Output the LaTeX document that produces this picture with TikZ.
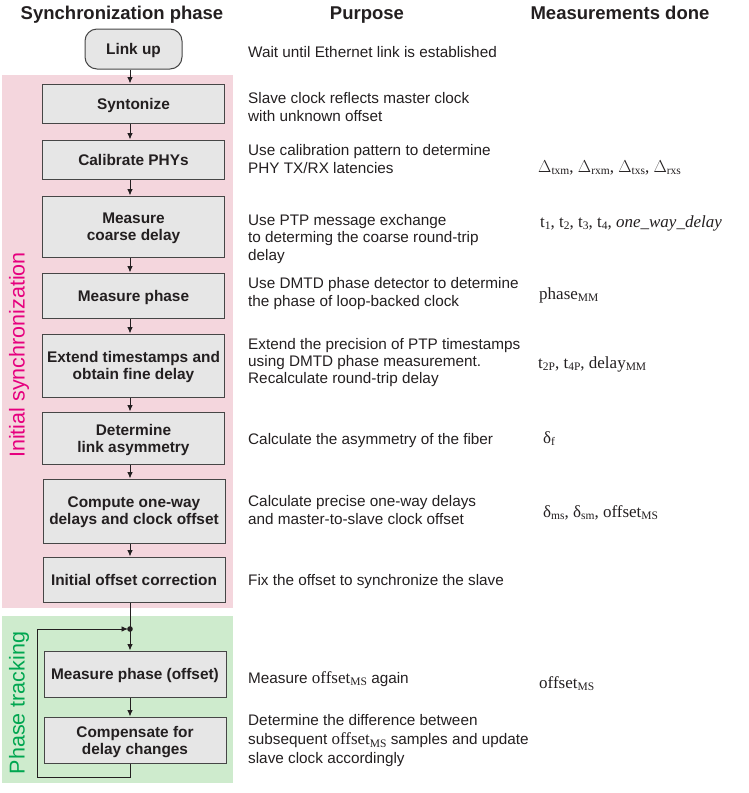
\documentclass[tikz,border=0pt]{standalone}
\usepackage{fontspec}
\setmainfont{Liberation Sans}
\newfontfamily\tms{Liberation Serif}
\usetikzlibrary{arrows.meta}
\definecolor{pinkbg}{RGB}{244,214,221}
\definecolor{greenbg}{RGB}{206,235,205}
\definecolor{magtext}{RGB}{230,0,126}
\definecolor{grntext}{RGB}{0,166,80}
\definecolor{boxfill}{RGB}{230,230,230}
\definecolor{boxline}{RGB}{70,70,70}
\definecolor{ink}{RGB}{35,31,32}
\newcommand\msub[1]{\raisebox{-0.3ex}{\fontsize{11.5}{11.5}\selectfont #1}}
\newcommand\offMS{{\tms\fontsize{17}{18}\selectfont offset\msub{MS}}}
\begin{document}
\begin{tikzpicture}[x=1pt,y=-1pt,
  stepbox/.style={draw=boxline, line width=1pt, fill=boxfill, minimum width=182pt, align=center,
    font=\bfseries\fontsize{15.4}{17}\selectfont, text=ink, inner sep=0pt, text depth=0pt},
  purp/.style={anchor=west, align=left, inner sep=0pt, font=\fontsize{15.3}{17.3}\selectfont, text=ink},
  meas/.style={anchor=base west, inner sep=0pt, font=\tms\fontsize{17}{19}\selectfont, text=ink},
  head/.style={anchor=base, inner sep=0pt, font=\bfseries\fontsize{18.5}{20}\selectfont, text=ink},
  flow/.style={line width=0.9pt, draw=ink},
  arr/.style={flow, -{Latex[length=6.5pt,width=5.5pt]}},
  side/.style={rotate=90, inner sep=0pt, font=\fontsize{21.5}{22}\selectfont},
]
\useasboundingbox (0,0) rectangle (748,793);
% backgrounds
\fill[pinkbg] (2,75) rectangle (233,608);
\fill[greenbg] (2,616) rectangle (233,783);
\node[side, text=magtext] (lblinit) at (19,355) {Initial synchronization};
\node[side, text=grntext] (lblphase) at (19,703) {Phase tracking};

% headers
\node[head] (h1) at (122,19) {Synchronization phase};
\node[head] (h2) at (367,19) {Purpose};
\node[head] (h3) at (620,19) {Measurements done};

% flow boxes
\node[stepbox, minimum width=97pt, minimum height=40pt, rounded corners=12pt] (link) at (133.5,49) {Link up};
\node[stepbox, minimum height=39pt] (synt) at (133.5,103.5) {Syntonize};
\node[stepbox, minimum height=39pt] (calib) at (133.5,159.5) {Calibrate PHYs};
\node[stepbox, minimum height=61pt] (coarse) at (133.5,226.5) {Measure\\coarse delay};
\node[stepbox, minimum height=45pt] (phase) at (133.5,295.5) {Measure phase};
\node[stepbox, minimum height=63pt] (ext) at (133.5,365.5) {Extend timestamps and\\obtain fine delay};
\node[stepbox, minimum height=52pt] (asym) at (133.5,438) {Determine\\link asymmetry};
\node[stepbox, minimum height=64pt] (oneway) at (134,511) {Compute one-way\\delays and clock offset};
\node[stepbox, minimum height=45pt] (init) at (134,579.5) {Initial offset correction};
\node[stepbox, minimum height=46pt] (mpo) at (135,674) {Measure phase (offset)};
\node[stepbox, minimum height=46pt] (comp) at (135,740) {Compensate for\\delay changes};

% connectors
\coordinate (ax) at (130,0);
\coordinate (j) at (130,629);
\coordinate (lb) at (37,777);
\draw[arr] (link.south -| ax) -- (synt.north -| ax);
\draw[arr] (synt.south -| ax) -- (calib.north -| ax);
\draw[arr] (calib.south -| ax) -- (coarse.north -| ax);
\draw[arr] (coarse.south -| ax) -- (phase.north -| ax);
\draw[arr] (phase.south -| ax) -- (ext.north -| ax);
\draw[arr] (ext.south -| ax) -- (asym.north -| ax);
\draw[arr] (asym.south -| ax) -- (oneway.north -| ax);
\draw[arr] (oneway.south -| ax) -- (init.north -| ax);
\draw[flow] (init.south -| ax) -- (j);
\draw[arr] (j) -- (mpo.north -| ax);
\draw[arr] (mpo.south -| ax) -- (comp.north -| ax);
\draw[arr] (comp.south -| ax) |- (lb) |- ([xshift=-2pt]j);
\fill[ink] (j) circle (2.8pt);

% purpose column
\node[purp] (p1) at (248,52) {Wait until Ethernet link is established};
\node[purp] (p2) at (248,107) {Slave clock reflects master clock\\with unknown offset};
\node[purp] (p3) at (248,159) {Use calibration pattern to determine\\PHY TX/RX latencies};
\node[purp] (p4) at (248,239) {Use PTP message exchange\\to determing the coarse round-trip\\delay};
\node[purp] (p5) at (248,293.5) {Use DMTD phase detector to determine\\the phase of loop-backed clock};
\node[purp] (p6) at (248,362.5) {Extend the precision of PTP timestamps\\using DMTD phase measurement.\\Recalculate round-trip delay};
\node[purp] (p7) at (248,441) {Calculate the asymmetry of the fiber};
\node[purp] (p8) at (248,510) {Calculate precise one-way delays\\and master-to-slave clock offset};
\node[purp] (p9) at (248,582) {Fix the offset to synchronize the slave};
\node[purp] (p10) at (248,679) {Measure \offMS{} again};
\node[purp, font=\fontsize{15.3}{19}\selectfont] (p11) at (248,741) {Determine the difference between\\subsequent \offMS{} samples and update\\slave clock accordingly};

% measurements column
\node[meas] (m3) at (538,172) {$\Delta$\msub{txm}, $\Delta$\msub{rxm}, $\Delta$\msub{txs}, $\Delta$\msub{rxs}};
\node[meas] (m4) at (540,227) {t\msub{1}, t\msub{2}, t\msub{3}, t\msub{4}, \textit{one\_way\_delay}};
\node[meas] (m5) at (539,299) {phase\msub{MM}};
\node[meas] (m6) at (538,368) {t\msub{2P}, t\msub{4P}, delay\msub{MM}};
\node[meas] (m7) at (543,443) {δ\msub{f}};
\node[meas] (m8) at (543,517) {δ\msub{ms}, δ\msub{sm}, offset\msub{MS}};
\node[meas] (m10) at (539,688) {offset\msub{MS}};
\end{tikzpicture}
\end{document}
